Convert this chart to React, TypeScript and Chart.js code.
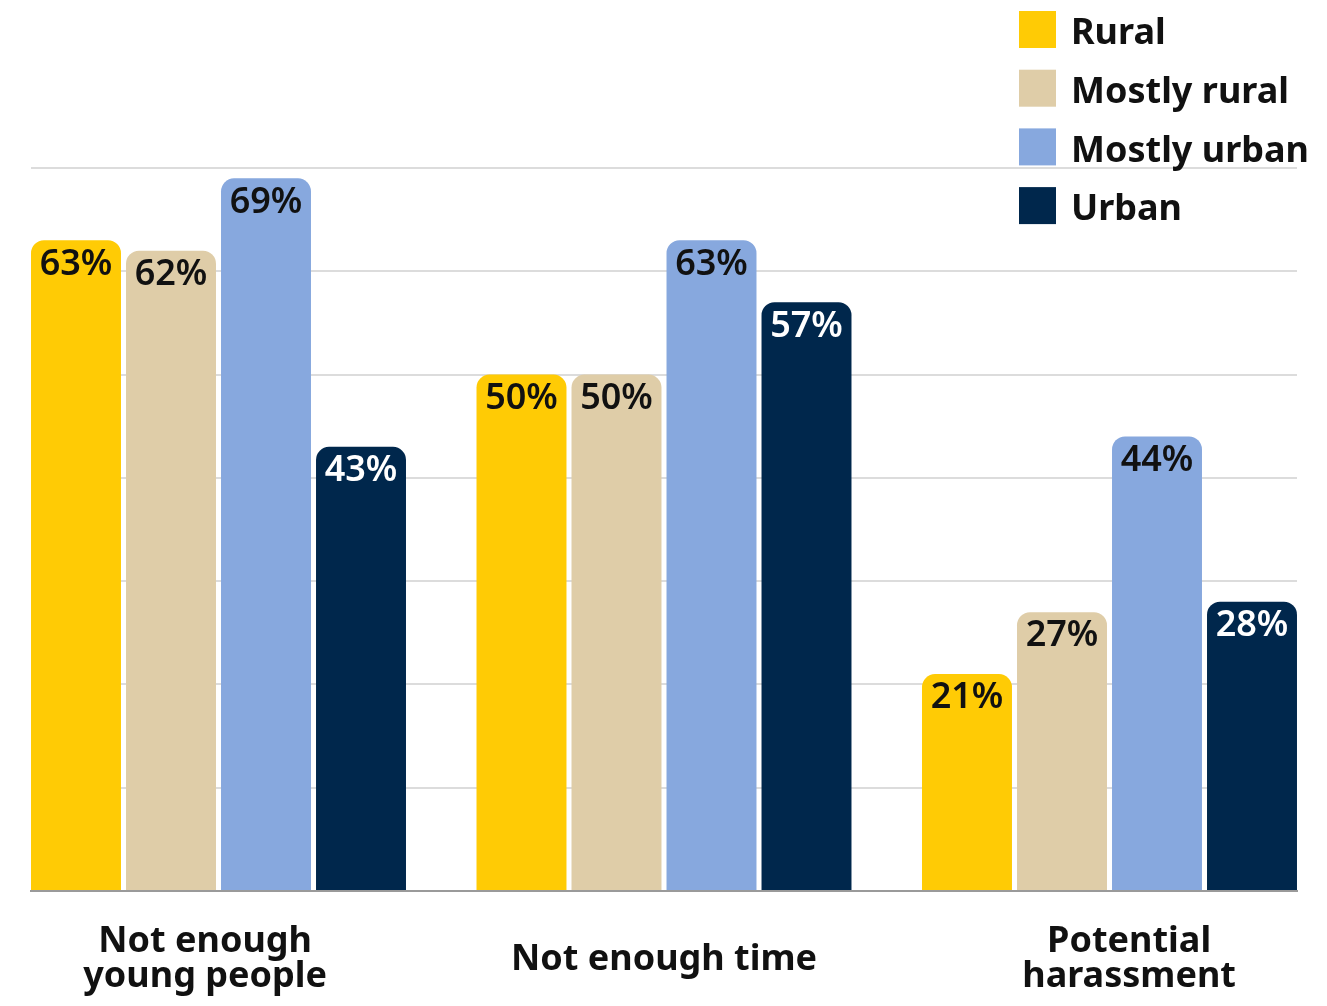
import React, { useEffect, useRef } from "react";
import { Chart, registerables } from "chart.js";

Chart.register(...registerables);

const categories: string[][] = [["Not enough", "young people"], ["Not enough time"], ["Potential", "harassment"]];
const seriesNames = ["Rural", "Mostly rural", "Mostly urban", "Urban"];
const rural = [63, 50, 21];
const mostlyRural = [62, 50, 27];
const mostlyUrban = [69, 63, 44];
const urban = [43, 57, 28];
const seriesValues = [rural, mostlyRural, mostlyUrban, urban];
const seriesColors = ["#FFCB05", "#DFCDA8", "#87A8DE", "#00274C"];
const valueLabelColors = ["#111111", "#111111", "#111111", "#FFFFFF"];
const yMin = 0;
const yMax = 70;
const yStep = 10;

// small horizontal nudges of the category label text (in category units)
const LABEL_NUDGE = [-0.03, 0, 0.044];

const FONT = "'Noto Sans', Lato, sans-serif";

const valueLabelsPlugin = {
  id: "valueLabels",
  afterDatasetsDraw(chart: any) {
    const ctx = chart.ctx;
    ctx.save();
    ctx.font = `600 36px ${FONT}`;
    ctx.textAlign = "center";
    ctx.textBaseline = "middle";
    chart.data.datasets.forEach((ds: any, di: number) => {
      const meta = chart.getDatasetMeta(di);
      meta.data.forEach((el: any, i: number) => {
        const v = ds.data[i].y;
        ctx.fillStyle = valueLabelColors[di];
        ctx.fillText(`${v}%`, el.x, el.y + 24);
      });
    });
    ctx.restore();
  },
};

const sideLegendPlugin = {
  id: "sideLegend",
  afterDraw(chart: any) {
    const ctx = chart.ctx;
    ctx.save();
    ctx.font = `bold 36px ${FONT}`;
    ctx.textAlign = "left";
    ctx.textBaseline = "middle";
    chart.data.datasets.forEach((ds: any, di: number) => {
      const top = 3 + di * 58.7;
      ctx.fillStyle = ds.backgroundColor;
      ctx.fillRect(1011, top, 37, 37);
      ctx.fillStyle = "#111111";
      ctx.fillText(ds.label, 1063, top + 23);
    });
    ctx.restore();
  },
};

export default function App() {
  const canvasRef = useRef<HTMLCanvasElement | null>(null);

  useEffect(() => {
    if (!canvasRef.current) return;
    const datasets = seriesNames.map((name, si) => ({
      label: name,
      data: seriesValues[si].map((v, ci) => ({ x: ci, y: v })),
      backgroundColor: seriesColors[si],
      borderWidth: 0,
      borderRadius: 13,
      borderSkipped: "start" as const,
      categoryPercentage: 0.853,
      barPercentage: 0.947,
    }));

    const chart = new Chart(canvasRef.current, {
      type: "bar",
      data: { datasets },
      options: {
        animation: false,
        responsive: true,
        maintainAspectRatio: false,
        devicePixelRatio: 1,
        layout: { padding: { left: 23, right: 22, top: 160, bottom: 0 } },
        plugins: {
          legend: { display: false },
          tooltip: { enabled: false },
        },
        scales: {
          x: {
            type: "linear",
            offset: false,
            min: -0.42088,
            max: 2.42088,
            afterBuildTicks: (scale: any) => {
              scale.ticks = categories.map((_, i) => ({ value: i + LABEL_NUDGE[i] }));
            },
            afterFit: (scale: any) => {
              scale.height = 107;
            },
            grid: { display: false, drawTicks: false, offset: false },
            border: { display: true, color: "#9a9a9a", width: 2 },
            ticks: {
              autoSkip: false,
              maxRotation: 0,
              minRotation: 0,
              padding: 51,
              crossAlign: "center",
              color: "#111111",
              font: { family: FONT, size: 36, weight: "bold", lineHeight: 35 / 36 },
              callback: (value: any) => {
                const c = categories[Math.round(Number(value))];
                return c ? (c.length === 1 ? c[0] : c) : "";
              },
            },
          },
          y: {
            min: yMin,
            max: yMax,
            afterFit: (scale: any) => {
              scale.width = 0;
            },
            ticks: { display: false, stepSize: yStep },
            grid: { color: "#dcdcdc", lineWidth: 2, drawTicks: false },
            border: { display: false },
          },
        },
      },
      plugins: [valueLabelsPlugin, sideLegendPlugin],
    } as any);

    return () => chart.destroy();
  }, []);

  return (
    <div style={{ width: 1311, height: 990, position: "relative" }}>
      <canvas ref={canvasRef} />
    </div>
  );
}
